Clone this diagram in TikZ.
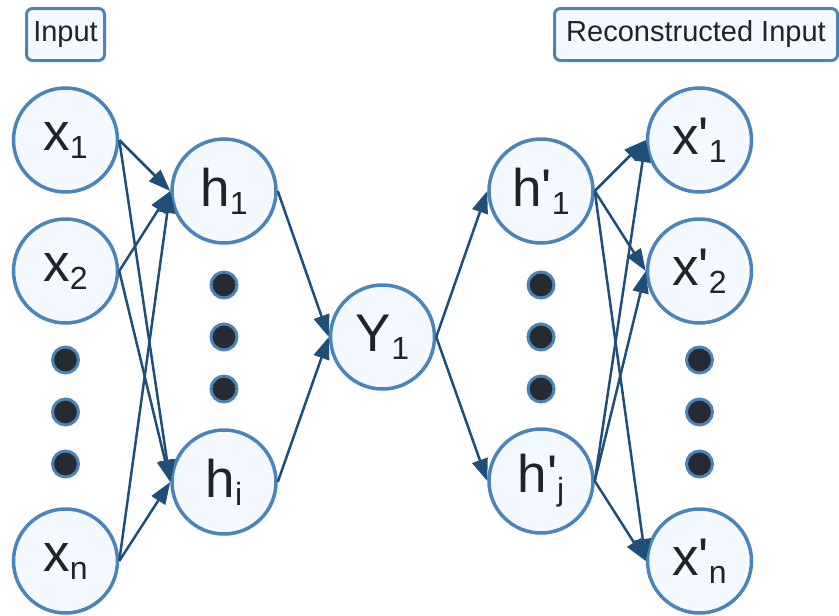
\documentclass[tikz,border=0pt]{standalone}
\usepackage{fontspec}
\setmainfont{Liberation Sans}
\usetikzlibrary{arrows.meta}

\definecolor{ringblue}{HTML}{4A84B8}
\definecolor{cellfill}{HTML}{F4F9FF}
\definecolor{linkblue}{HTML}{1F4E79}
\definecolor{inkdark}{HTML}{1E2429}
\definecolor{dotdark}{HTML}{262B33}

\newcommand{\cellname}[2]{{\fontsize{53}{60}\selectfont #1}\raisebox{-8pt}{\fontsize{32}{36}\selectfont #2}}

\begin{document}
\begin{tikzpicture}[
  x=1pt,
  y=-1pt,
  neuron/.style={circle, draw=ringblue, fill=cellfill, line width=3.5pt,
    minimum size=104pt, inner sep=0pt, text=inkdark},
  layerdot/.style={circle, draw=ringblue, fill=dotdark, line width=3pt,
    minimum size=26pt, inner sep=0pt},
  tagbox/.style={draw=ringblue, fill=cellfill, line width=3pt, rounded corners=6pt,
    text=inkdark, font=\fontsize{29}{33}\selectfont, minimum height=52pt, inner sep=0pt},
  link/.style={draw=linkblue, line width=2.5pt, -{Triangle[length=22pt,width=16pt]}}
]
\useasboundingbox (0,0) rectangle (839,616);

% headings
\node[tagbox, minimum width=78pt] (intag) at (65.5,34.5) {Input};
\node[tagbox, minimum width=283pt] (outtag) at (696,34.5) {Reconstructed Input};

% input layer
\node[neuron] (x1) at (65.5,140) {\cellname{x}{1}};
\node[neuron] (x2) at (65.5,271) {\cellname{x}{2}};
\node[neuron] (xn) at (65.5,561) {\cellname{x}{n}};

% encoder hidden layer
\node[neuron] (h1) at (224,191) {\cellname{h}{1}};
\node[neuron] (hi) at (224,482) {\cellname{h}{i}};

% code
\node[neuron] (y1) at (382.5,337) {\cellname{Y}{1}};

% decoder hidden layer
\node[neuron] (g1) at (541,191) {\cellname{h\textquotesingle}{1}};
\node[neuron] (gj) at (541,481) {\cellname{h\textquotesingle}{j}};

% output layer
\node[neuron] (z1) at (699.5,140) {\cellname{x\textquotesingle}{1}};
\node[neuron] (z2) at (699.5,271) {\cellname{x\textquotesingle}{2}};
\node[neuron] (zn) at (699.5,561) {\cellname{x\textquotesingle}{n}};

% elided units
\foreach \k/\y in {1/360,2/412,3/464} {
  \node[layerdot] (xdot\k) at (65.5,\y) {};
  \node[layerdot] (zdot\k) at (699.5,\y) {};
}
\foreach \k/\y in {1/285,2/337,3/389} {
  \node[layerdot] (hdot\k) at (224,\y) {};
  \node[layerdot] (gdot\k) at (541,\y) {};
}

% connections
\foreach \a in {x1,x2,xn}
  \foreach \b in {h1,hi}
    \draw[link] (\a.east) -- (\b.west);
\draw[link] (h1.east) -- (y1.west);
\draw[link] (hi.east) -- (y1.west);
\draw[link] (y1.east) -- (g1.west);
\draw[link] (y1.east) -- (gj.west);
\foreach \a in {g1,gj}
  \foreach \b in {z1,z2,zn}
    \draw[link] (\a.east) -- (\b.west);
\end{tikzpicture}
\end{document}
